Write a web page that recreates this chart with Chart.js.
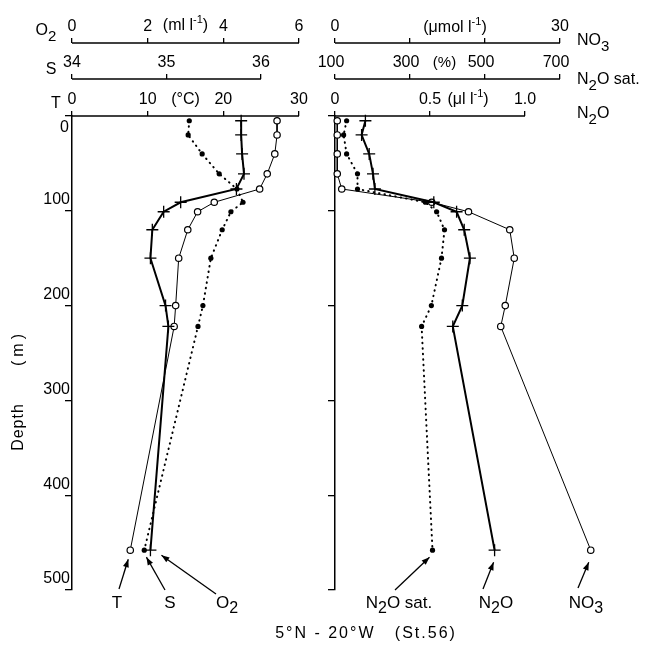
<!DOCTYPE html>
<html>
<head>
<meta charset="utf-8">
<script src="https://cdn.jsdelivr.net/npm/chart.js@4.4.1/dist/chart.umd.min.js"></script>
<style>
  html, body { margin: 0; padding: 0; background: #fff; }
  #wrap { position: relative; width: 654px; height: 647px; }
  #wrap canvas { position: absolute; left: 0; top: 0; }
</style>
</head>
<body>
<div id="wrap">
  <canvas id="leftChart" width="654" height="647"></canvas>
  <canvas id="rightChart" width="654" height="647"></canvas>
</div>
<script>
// sampling depths (m), shared by all profiles
const depth = [5, 20, 40, 61, 77, 91, 101, 120, 150, 200, 222, 458];

// left panel
const temp = [27.1, 27.1, 26.8, 25.8, 24.8, 18.8, 16.6, 15.3, 14.1, 13.7, 13.5, 7.7];
const sal = [35.79, 35.79, 35.80, 35.82, 35.74, 35.15, 34.97, 34.85, 34.83, 34.99, 35.02, 34.83];
const oxy = [3.10, 3.07, 3.44, 3.89, 4.36, 4.52, 4.20, 3.97, 3.67, 3.46, 3.33, 1.91];

// right panel
const nitrate = [0.3, 0.3, 0.3, 0.3, 0.9, 12.9, 17.8, 23.3, 23.9, 22.7, 22.1, 34.1];
const n2o = [0.16, 0.14, 0.18, 0.20, 0.21, 0.52, 0.64, 0.68, 0.71, 0.67, 0.62, 0.84];
const n2oSat = [131, 123, 131, 160, 160, 341, 371, 392, 384, 357, 331, 360];

// ticks
const depthTicks = [0, 100, 200, 300, 400, 500];
const tTicks = [0, 10, 20, 30];
const tLabels = ['0', '10', '20', '30'];
const sTicks = [34, 35, 36];
const sLabels = ['34', '35', '36'];
const o2Ticks = [0, 2, 4, 6];
const o2Labels = ['0', '2', '4', '6'];
const no3Ticks = [0, 10, 20, 30];
const no3Labels = ['0', '', '', '30'];
const satTicks = [100, 300, 500, 700];
const satLabels = ['100', '300', '500', '700'];
const n2oTicks = [0, 0.5, 1.0];
const n2oLabels = ['0', '0.5', '1.0'];

const FONT = '"Liberation Sans", Arial, sans-serif';
Chart.defaults.font.family = FONT;
Chart.defaults.color = '#000';

const pts = vals => vals.map((v, i) => ({ x: v, y: depth[i] }));

function topAxis(weight, min, max, ticks, labels, height, shift) {
    return {
        type: 'linear', axis: 'x', position: 'top', weight: weight, min: min, max: max,
        afterBuildTicks: s => { s.ticks = ticks.map(v => ({ value: v })); },
        afterFit: s => { s.height = height; },
        border: { display: false },
        grid: { drawOnChartArea: false, tickLength: 5, color: '#000', lineWidth: 1.3 },
        ticks: {
            autoSkip: false, maxRotation: 0, padding: 1.5, color: '#000', font: { size: 16 },
            labelOffset: shift || 0,
            callback: v => { const i = ticks.indexOf(v); return i < 0 ? '' : labels[i]; }
        }
    };
}

function depthAxis(width, showLabels) {
    return {
        type: 'linear', axis: 'y', position: 'left', reverse: true, min: 0, max: 500,
        afterBuildTicks: s => { s.ticks = depthTicks.map(v => ({ value: v })); },
        afterFit: s => { s.width = width; },
        border: { display: true, color: '#000', width: 1.5 },
        grid: { drawOnChartArea: false, tickLength: 7, color: '#000', lineWidth: 1.3 },
        ticks: {
            display: showLabels, padding: -5, labelOffset: -11, color: '#000', font: { size: 16 },
            callback: v => v === 0 ? '' : String(v)
        }
    };
}

// text with sub/superscripts: parts = [[text, shift]] shift 0 normal, 1 sub, -1 sup
function rich(ctx, parts, x, y, align, size) {
    size = size || 16;
    const fonts = { '0': size + 'px ' + FONT, '1': (size - 1) + 'px ' + FONT, '-1': (size - 5) + 'px ' + FONT };
    let w = 0;
    parts.forEach(([t, s]) => { ctx.font = fonts[s]; w += ctx.measureText(t).width; });
    let cx = align === 'left' ? x : align === 'right' ? x - w : x - w / 2;
    ctx.textAlign = 'left';
    ctx.textBaseline = 'middle';
    parts.forEach(([t, s]) => {
        ctx.font = fonts[s];
        ctx.fillText(t, cx, y + (s === 1 ? 6 : s === -1 ? -6 : 0));
        cx += ctx.measureText(t).width;
    });
}

function arrow(ctx, x1, y1, x2, y2) {
    ctx.lineWidth = 1.3;
    ctx.beginPath(); ctx.moveTo(x1, y1); ctx.lineTo(x2, y2); ctx.stroke();
    const a = Math.atan2(y2 - y1, x2 - x1);
    ctx.beginPath();
    ctx.moveTo(x2, y2);
    ctx.lineTo(x2 - 8 * Math.cos(a) + 3 * Math.sin(a), y2 - 8 * Math.sin(a) - 3 * Math.cos(a));
    ctx.lineTo(x2 - 8 * Math.cos(a) - 3 * Math.sin(a), y2 - 8 * Math.sin(a) + 3 * Math.cos(a));
    ctx.closePath(); ctx.fill();
}

// axis lines only between the first and last tick
function axisLines(chart) {
    const ctx = chart.ctx;
    ctx.save();
    ctx.strokeStyle = '#000'; ctx.lineWidth = 1.5;
    Object.values(chart.scales).forEach(s => {
        if (s.axis !== 'x') return;
        const a = s.getPixelForValue(s.ticks[0].value);
        const b = s.getPixelForValue(s.ticks[s.ticks.length - 1].value);
        ctx.beginPath(); ctx.moveTo(a, s.bottom); ctx.lineTo(b, s.bottom); ctx.stroke();
    });
    ctx.restore();
}

function lastPoint(chart, i) {
    const d = chart.getDatasetMeta(i).data;
    return d[d.length - 1];
}

const leftDecor = {
    id: 'leftDecor',
    afterDraw(chart) {
        axisLines(chart);
        const ctx = chart.ctx, sc = chart.scales;
        ctx.save();
        ctx.fillStyle = '#000'; ctx.strokeStyle = '#000';
        rich(ctx, [['O', 0], ['2', 1]], 46, 31, 'center');
        rich(ctx, [['S', 0]], 51, 70, 'center');
        rich(ctx, [['T', 0]], 56, 104, 'center');
        rich(ctx, [['(ml l', 0], ['-1', -1], [')', 0]], sc.o2.getPixelForValue(3), sc.o2.bottom - 17, 'center');
        rich(ctx, [['(°C)', 0]], sc.t.getPixelForValue(15), sc.t.bottom - 16, 'center');
        rich(ctx, [['0', 0]], 69, sc.y.getPixelForValue(0) + 12, 'right');

        // vertical axis title
        ctx.save();
        ctx.translate(19, 0);
        ctx.rotate(-Math.PI / 2);
        ctx.font = '16px ' + FONT; ctx.textAlign = 'center'; ctx.textBaseline = 'middle';
        ctx.letterSpacing = '1px';
        ctx.fillText('Depth', -427, 0);
        ctx.letterSpacing = '4px';
        ctx.fillText('(m)', -348, 0);
        ctx.restore();

        // profile labels with arrows
        const pT = lastPoint(chart, 2), pS = lastPoint(chart, 1);
        arrow(ctx, 119, 589, pT.x - 2, pT.y + 9);
        arrow(ctx, 165, 590, pS.x - 4, pS.y + 7);
        arrow(ctx, 216, 594, pS.x + 11, pS.y + 5);
        rich(ctx, [['T', 0]], 117, 603, 'center', 17);
        rich(ctx, [['S', 0]], 170, 603, 'center', 17);
        rich(ctx, [['O', 0], ['2', 1]], 227, 603, 'center', 17);

        // caption
        ctx.font = '16px ' + FONT; ctx.textAlign = 'center'; ctx.textBaseline = 'middle';
        ctx.letterSpacing = '2px';
        ctx.fillText('5°N - 20°W   (St.56)', 366, 634);
        ctx.restore();
    }
};

const rightDecor = {
    id: 'rightDecor',
    afterDraw(chart) {
        axisLines(chart);
        const ctx = chart.ctx, sc = chart.scales;
        ctx.save();
        ctx.fillStyle = '#000'; ctx.strokeStyle = '#000';
        rich(ctx, [['NO', 0], ['3', 1]], 577, 41, 'left');
        rich(ctx, [['N', 0], ['2', 1], ['O sat.', 0]], 577, 80, 'left');
        rich(ctx, [['N', 0], ['2', 1], ['O', 0]], 577, 114, 'left');
        rich(ctx, [['(μmol l', 0], ['-1', -1], [')', 0]], sc.no3.getPixelForValue(16), sc.no3.bottom - 15, 'center');
        rich(ctx, [['(%)', 0]], sc.sat.getPixelForValue(392), sc.sat.bottom - 16, 'center', 15);
        rich(ctx, [['(μl l', 0], ['-1', -1], [')', 0]], sc.n2o.getPixelForValue(0.7), sc.n2o.bottom - 16, 'center');

        const pSat = lastPoint(chart, 0), pN = lastPoint(chart, 1), pNo3 = lastPoint(chart, 2);
        arrow(ctx, 395, 590, pSat.x - 3, pSat.y + 7);
        arrow(ctx, 483, 589, pN.x - 1, pN.y + 12);
        arrow(ctx, 578, 588, pNo3.x - 2, pNo3.y + 12);
        rich(ctx, [['N', 0], ['2', 1], ['O sat.', 0]], 399, 603, 'center', 17);
        rich(ctx, [['N', 0], ['2', 1], ['O', 0]], 496, 603, 'center', 17);
        rich(ctx, [['NO', 0], ['3', 1]], 586, 603, 'center', 17);
        ctx.restore();
    }
};

const dotted = { borderWidth: 2, borderDash: [0.5, 5], borderCapStyle: 'round', pointRadius: 2.6,
    pointBackgroundColor: '#000', pointBorderWidth: 0, pointStyle: 'circle' };
const crossed = { borderWidth: 2, pointStyle: 'cross', pointRadius: 6, pointBorderWidth: 1.3 };
const circled = { borderWidth: 1, pointStyle: 'circle', pointRadius: 3.2, pointBorderWidth: 1.2,
    pointBackgroundColor: '#fff' };

const common = {
    responsive: false,
    animation: false,
    plugins: { legend: { display: false }, tooltip: { enabled: false } },
    events: []
};

// Left panel: O2, S, T
new Chart(document.getElementById('leftChart').getContext('2d'), {
    type: 'scatter',
    data: {
        datasets: [
            Object.assign({ label: 'O2', data: pts(oxy), xAxisID: 'o2', yAxisID: 'y', showLine: true,
                borderColor: '#000', pointBorderColor: '#000', clip: false }, dotted),
            Object.assign({ label: 'S', data: pts(sal), xAxisID: 's', yAxisID: 'y', showLine: true,
                borderColor: '#000', pointBorderColor: '#000', clip: false }, crossed),
            Object.assign({ label: 'T', data: pts(temp), xAxisID: 't', yAxisID: 'y', showLine: true,
                borderColor: '#000', pointBorderColor: '#000', clip: false }, circled)
        ]
    },
    options: Object.assign({}, common, {
        layout: { padding: { left: 0, right: 355, top: 6, bottom: 57 } },
        scales: {
            t: topAxis(0, 0, 30, tTicks, tLabels, 37),
            s: topAxis(1, 34, 34 + 227 / 94.5, sTicks, sLabels, 36),
            o2: topAxis(2, 0, 6, o2Ticks, o2Labels, 37),
            y: depthAxis(72, true)
        }
    }),
    plugins: [leftDecor]
});

// Right panel: N2O sat., N2O, NO3
new Chart(document.getElementById('rightChart').getContext('2d'), {
    type: 'scatter',
    data: {
        datasets: [
            Object.assign({ label: 'N2O sat.', data: pts(n2oSat), xAxisID: 'sat', yAxisID: 'y', showLine: true,
                borderColor: '#000', pointBorderColor: '#000', clip: false }, dotted),
            Object.assign({ label: 'N2O', data: pts(n2o), xAxisID: 'n2o', yAxisID: 'y', showLine: true,
                borderColor: '#000', pointBorderColor: '#000', clip: false }, crossed),
            Object.assign({ label: 'NO3', data: pts(nitrate), xAxisID: 'no3', yAxisID: 'y', showLine: true,
                borderColor: '#000', pointBorderColor: '#000', clip: false }, circled)
        ]
    },
    options: Object.assign({}, common, {
        layout: { padding: { left: 320, right: 54, top: 6, bottom: 57 } },
        scales: {
            n2o: topAxis(0, 0, 265 / 190, n2oTicks, n2oLabels, 37),
            sat: topAxis(1, 100, 100 + 265 / 0.375, satTicks, satLabels, 36, -4),
            no3: topAxis(2, 0, 265 / 7.5, no3Ticks, no3Labels, 37),
            y: depthAxis(15, false)
        }
    }),
    plugins: [rightDecor]
});
</script>
</body>
</html>
